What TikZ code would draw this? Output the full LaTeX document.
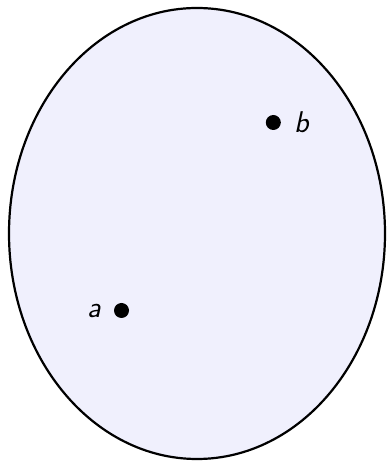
\documentclass[tikz,border=0pt]{standalone}
\usepackage{tikz}
\usetikzlibrary{positioning}
\definecolor{lavender}{HTML}{F0F0FD}

\begin{document}
\begin{tikzpicture}[x=1pt,y=1pt,
  font=\fontsize{30}{36}\selectfont\sffamily\itshape,
  region/.style={draw=black,fill=lavender,line width=2.2pt},
  pt/.style={circle,fill=black,inner sep=0pt,minimum size=15pt},
  lbl/.style={inner sep=0pt}]
  \useasboundingbox (0,0) rectangle (387,462);
  \draw[region] (197,228.5) ellipse [x radius=188, y radius=225.5];

  % the two points
  \node[pt] at (121.5,151.5) (a) {};
  \node[pt] at (273.3,339.5) (b) {};
  \node[lbl,left=13pt of a] (la) {a};
  \node[lbl,right=13pt of b] (lb) {b};
\end{tikzpicture}
\end{document}
